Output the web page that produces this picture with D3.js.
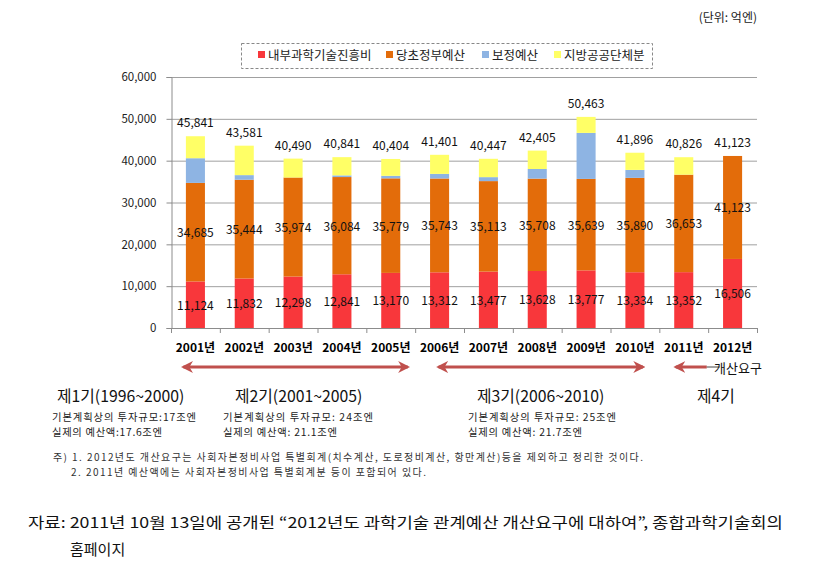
<!DOCTYPE html>
<html>
<head>
<meta charset="utf-8">
<script src="https://cdn.jsdelivr.net/npm/d3@7"></script>
<style>
  body { margin: 0; background: #fff; }
  svg { display: block; font-family: "Noto Sans CJK KR", "Noto Sans", sans-serif; }
</style>
</head>
<body>
<svg id="chart" width="816" height="574"></svg>
<script>
// ---- data ----
const years = ["2001년","2002년","2003년","2004년","2005년","2006년","2007년","2008년","2009년","2010년","2011년","2012년"];
const naebu   = [11124, 11832, 12298, 12841, 13170, 13312, 13477, 13628, 13777, 13334, 13352, 16506]; // 내부과학기술진흥비
const dangcho = [34685, 35444, 35974, 36084, 35779, 35743, 35113, 35708, 35639, 35890, 36653, 41123]; // 당초정부예산 (label, cumulative)
const bojeong = [5900, 1100, 0, 400, 600, 1100, 950, 2300, 11000, 1900, 0, 0];                         // 보정예산 (estimated)
const totals  = [45841, 43581, 40490, 40841, 40404, 41401, 40447, 42405, 50463, 41896, 40826, 41123]; // total incl. 지방공공단체분
const seriesNames = ["내부과학기술진흥비","당초정부예산","보정예산","지방공공단체분"];
const seriesColors = ["#F8373B","#E36C0A","#8EB4E3","#FFFF66"];
const yTicks = [0, 10000, 20000, 30000, 40000, 50000, 60000];

(function () {
const rows = years.map((yr, i) => ({
  year: yr,
  s0: naebu[i],
  s1: dangcho[i] - naebu[i],
  s2: bojeong[i],
  s3: Math.max(0, totals[i] - dangcho[i] - bojeong[i])
}));

const svg = d3.select("#chart");
const pL = 171, pR = 757, pT = 77, pB = 328;

const x = d3.scaleBand().domain(years).range([pL, pR]).paddingInner(0.61).paddingOuter(0.305);
const y = d3.scaleLinear().domain([0, 60000]).range([pB, pT]);
const step = x.step();

// gridlines
svg.append("g").selectAll("line").data(yTicks.filter(t => t > 0)).join("line")
  .attr("x1", pL).attr("x2", pR)
  .attr("y1", d => y(d) + 0.5).attr("y2", d => y(d) + 0.5)
  .attr("stroke", "#a0a0a0").attr("stroke-width", 1);

// y axis
const ya = svg.append("g").attr("transform", `translate(${pL + 0.5},0)`)
  .call(d3.axisLeft(y).tickValues(yTicks).tickFormat(d3.format(",")).tickSize(5).tickPadding(10));
ya.select(".domain").attr("stroke", "#8c8c8c");
ya.selectAll(".tick line").attr("stroke", "#8c8c8c");
ya.selectAll("text").attr("font-size", 11.5).attr("fill", "#222").attr("font-family", "Noto Sans CJK KR");

// stacked bars
const stack = d3.stack().keys(["s0","s1","s2","s3"])(rows);
svg.append("g").selectAll("g").data(stack).join("g")
  .attr("fill", (d, i) => seriesColors[i])
  .selectAll("rect").data(d => d).join("rect")
  .attr("x", d => x(d.data.year))
  .attr("width", x.bandwidth())
  .attr("y", d => y(d[1]))
  .attr("height", d => y(d[0]) - y(d[1]));

// x axis line + tick marks between categories
svg.append("line").attr("x1", pL).attr("x2", pR).attr("y1", pB + 0.5).attr("y2", pB + 0.5)
  .attr("stroke", "#8c8c8c");
svg.append("g").selectAll("line").data(d3.range(years.length + 1)).join("line")
  .attr("x1", i => pL + i * step + 0.5).attr("x2", i => pL + i * step + 0.5)
  .attr("y1", pB).attr("y2", pB + 5).attr("stroke", "#8c8c8c");

// x labels
svg.append("g").selectAll("text").data(years).join("text")
  .attr("x", d => x(d) + x.bandwidth() / 2).attr("y", pB + 24)
  .attr("text-anchor", "middle").attr("font-size", 12).attr("font-weight", "bold")
  .attr("fill", "#000").text(d => d);

// value labels
const fmt = d3.format(",");
const lab = svg.append("g").attr("font-size", 12).attr("fill", "#111").attr("text-anchor", "middle");
years.forEach((yr, i) => {
  const cx = x(yr) + x.bandwidth() / 2;
  lab.append("text").attr("x", cx).attr("y", y(naebu[i] / 2) + 5).text(fmt(naebu[i]));
  lab.append("text").attr("x", cx).attr("y", y((naebu[i] + dangcho[i]) / 2) + 5).text(fmt(dangcho[i]));
  lab.append("text").attr("x", cx).attr("y", y(totals[i]) - 9).text(fmt(totals[i]));
});

// legend
const lg = svg.append("g");
lg.append("rect").attr("x", 241.5).attr("y", 43.5).attr("width", 411).attr("height", 25)
  .attr("fill", "none").attr("stroke", "#888").attr("stroke-dasharray", "3,2");
const legX = [258, 386, 482, 554];
seriesNames.forEach((n, i) => {
  lg.append("rect").attr("x", legX[i]).attr("y", 51).attr("width", 7).attr("height", 7).attr("fill", seriesColors[i]);
  lg.append("text").attr("x", legX[i] + 10).attr("y", 59.5).attr("font-size", 12.5).attr("fill", "#222").text(n);
});

// unit
svg.append("text").attr("x", 757).attr("y", 22).attr("text-anchor", "end").attr("font-size", 12)
  .attr("fill", "#222").text("(단위: 억엔)");

// arrows
const defs = svg.append("defs");
const ac = "#C0504D";
defs.append("marker").attr("id", "ah").attr("viewBox", "0 0 10 10").attr("refX", 8).attr("refY", 5)
  .attr("markerWidth", 4).attr("markerHeight", 4).attr("orient", "auto-start-reverse")
  .append("path").attr("d", "M0,0 L10,5 L0,10 L3,5 Z").attr("fill", ac);
const cen = i => x(years[i]) + x.bandwidth() / 2;
const arrowY = 367;
const arrows = [
  [cen(0) - 12, cen(4) + 17, true],
  [cen(5) - 1, cen(9) + 8, true],
  [cen(10) - 8, cen(10) + 23, false]
];
arrows.forEach(a => {
  const l = svg.append("line").attr("x1", a[0]).attr("x2", a[1]).attr("y1", arrowY).attr("y2", arrowY)
    .attr("stroke", ac).attr("stroke-width", 3).attr("marker-start", "url(#ah)");
  if (a[2]) l.attr("marker-end", "url(#ah)");
});
svg.append("line").attr("x1", cen(10) + 23).attr("x2", cen(10) + 36).attr("y1", arrowY).attr("y2", arrowY)
  .attr("stroke", "#444").attr("stroke-width", 1);
svg.append("text").attr("x", 714).attr("y", 373).attr("font-size", 13).attr("fill", "#111").text("개산요구");

// period labels
const per = [
  {x: 57, t: "제1기(1996~2000)"},
  {x: 235, t: "제2기(2001~2005)"},
  {x: 477, t: "제3기(2006~2010)"},
  {x: 697, t: "제4기"}
];
per.forEach(p => svg.append("text").attr("x", p.x).attr("y", 402).attr("font-size", 15.8).attr("fill", "#111").text(p.t));
const sub = [
  {x: 52, a: "기본계획상의 투자규모:17조엔", aw: 144, b: "실제의 예산액:17.6조엔", bw: 110},
  {x: 223, a: "기본계획상의 투자규모: 24조엔", aw: 150, b: "실제의 예산액: 21.1조엔", bw: 114},
  {x: 468, a: "기본계획상의 투자규모: 25조엔", aw: 148, b: "실제의 예산액: 21.7조엔", bw: 114}
];
sub.forEach(s => {
  svg.append("text").attr("x", s.x).attr("y", 421).attr("font-size", 10.3).attr("fill", "#222")
    .attr("textLength", s.aw).attr("lengthAdjust", "spacing").text(s.a);
  svg.append("text").attr("x", s.x).attr("y", 436).attr("font-size", 10.3).attr("fill", "#222")
    .attr("textLength", s.bw).attr("lengthAdjust", "spacing").text(s.b);
});

// notes
svg.append("text").attr("x", 53).attr("y", 461).attr("font-size", 10).attr("fill", "#333")
  .attr("textLength", 590).attr("lengthAdjust", "spacing")
  .text("주) 1. 2012년도 개산요구는 사회자본정비사업 특별회계(치수계산, 도로정비계산, 항만계산)등을 제외하고 정리한 것이다.");
svg.append("text").attr("x", 71).attr("y", 476).attr("font-size", 10).attr("fill", "#333")
  .attr("textLength", 355).attr("lengthAdjust", "spacing")
  .text("2. 2011년 예산액에는 사회자본정비사업 특별회계분 등이 포함되어 있다.");

// source
svg.append("text").attr("x", 28).attr("y", 528).attr("font-size", 15).attr("fill", "#111")
  .attr("textLength", 755).attr("lengthAdjust", "spacingAndGlyphs")
  .text("자료: 2011년 10월 13일에 공개된 “2012년도 과학기술 관계예산 개산요구에 대하여”, 종합과학기술회의");
svg.append("text").attr("x", 70).attr("y", 555).attr("font-size", 15).attr("fill", "#111").text("홈페이지");
})();
</script>
</body>
</html>
